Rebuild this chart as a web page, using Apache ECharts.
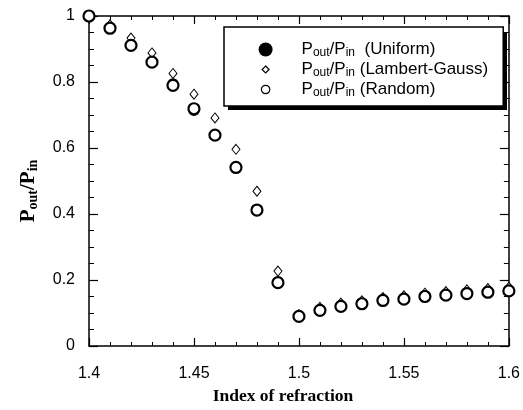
<!DOCTYPE html>
<html>
<head>
<meta charset="utf-8">
<script src="https://cdn.jsdelivr.net/npm/echarts@6/dist/echarts.min.js"></script>
<style>
html, body { margin: 0; padding: 0; background: #fff; }
#chart { width: 523px; height: 410px; }
</style>
</head>
<body>
<div id="chart"></div>
<script>
// index of refraction, 1.40 .. 1.60
var nIndex = [1.40, 1.41, 1.42, 1.43, 1.44, 1.45, 1.46, 1.47, 1.48, 1.49, 1.50,
              1.51, 1.52, 1.53, 1.54, 1.55, 1.56, 1.57, 1.58, 1.59, 1.60]
var uniform = [1.0, 0.963, 0.911, 0.860, 0.795, 0.714, 0.639, 0.541, 0.412, 0.192, 0.090,
               0.108, 0.120, 0.128, 0.138, 0.142, 0.150, 0.154, 0.159, 0.163, 0.167]
var lambert = [1.0, 0.973, 0.933, 0.888, 0.826, 0.763, 0.691, 0.596, 0.469, 0.227, 0.095,
               0.117, 0.130, 0.137, 0.147, 0.152, 0.160, 0.165, 0.170, 0.174, 0.178]
var random = [1.0, 0.963, 0.911, 0.860, 0.790, 0.719, 0.639, 0.541, 0.412, 0.192, 0.090,
              0.108, 0.120, 0.128, 0.138, 0.142, 0.150, 0.154, 0.159, 0.163, 0.167]
var xTicks = { min: 1.4, max: 1.6, interval: 0.05 }
var yTicks = { min: 0, max: 1, interval: 0.2 }

var chart = echarts.init(document.getElementById('chart'))

function pairs(ys) {
	return ys.map(function (y, i) { return [nIndex[i], y] })
}

var sans = 'Liberation Sans, Arial, sans-serif'
var serif = 'Liberation Serif, Times New Roman, serif'

function axisBase(extra) {
	return Object.assign({
		type: 'value',
		axisLine: { show: true, onZero: false, lineStyle: { color: '#000', width: 1.5 } },
		axisTick: { show: true, inside: true, length: 8, lineStyle: { color: '#000', width: 1.2 } },
		minorTick: { show: true, length: 4, lineStyle: { color: '#000', width: 1 } },
		splitLine: { show: false },
	}, extra)
}

var legendText = {
	Uniform: '{p|P}{s|out}{p|/P}{s|in}{p|  (Uniform)}',
	'Lambert-Gauss': '{p|P}{s|out}{p|/P}{s|in}{p| (Lambert-Gauss)}',
	Random: '{p|P}{s|out}{p|/P}{s|in}{p| (Random)}',
}

// legend box (drop shadow drawn as a plain rect behind it)
var legendBox = { left: 224, top: 27, width: 279, height: 78 }

var options = {
	animation: false,
	grid: { left: 89, top: 16, right: 13, bottom: 60 },
	graphic: [
		{
			type: 'rect',
			left: legendBox.left + 4,
			top: legendBox.top + 5,
			shape: { width: legendBox.width, height: legendBox.height },
			style: { fill: '#000' },
			z: 1,
		},
	],
	xAxis: [
		axisBase({
			min: xTicks.min, max: xTicks.max, interval: xTicks.interval,
			minorTick: { show: true, splitNumber: 5, length: 4, lineStyle: { color: '#000', width: 1 } },
			axisLabel: { color: '#000', fontFamily: sans, fontSize: 16, margin: 20 },
			name: 'Index of refraction',
			nameLocation: 'middle',
			nameGap: 41,
			nameTextStyle: { color: '#000', fontFamily: serif, fontWeight: 'bold', fontSize: 17.5, padding: [0, 32, 0, 0] },
		}),
		axisBase({
			position: 'top',
			min: xTicks.min, max: xTicks.max, interval: xTicks.interval,
			minorTick: { show: true, splitNumber: 5, length: 4, lineStyle: { color: '#000', width: 1 } },
			axisLabel: { show: false },
		}),
	],
	yAxis: [
		axisBase({
			min: yTicks.min, max: yTicks.max, interval: yTicks.interval,
			minorTick: { show: true, splitNumber: 4, length: 5, lineStyle: { color: '#000', width: 1 } },
			axisTick: { show: true, inside: true, length: 9, lineStyle: { color: '#000', width: 1.2 } },
			axisLabel: { color: '#000', fontFamily: sans, fontSize: 16, margin: 14 },
			name: '{p|P}{s|out}{p|/P}{s|in}',
			nameLocation: 'middle',
			nameGap: 49,
			nameTextStyle: {
				padding: [0, 20, 0, 0],
				rich: {
					p: { color: '#000', fontFamily: serif, fontWeight: 'bold', fontSize: 21 },
					s: { color: '#000', fontFamily: serif, fontWeight: 'bold', fontSize: 14, padding: [9, 0, 0, 0] },
				},
			},
		}),
		axisBase({
			position: 'right',
			min: yTicks.min, max: yTicks.max, interval: yTicks.interval,
			minorTick: { show: true, splitNumber: 4, length: 5, lineStyle: { color: '#000', width: 1 } },
			axisTick: { show: true, inside: true, length: 9, lineStyle: { color: '#000', width: 1.2 } },
			axisLabel: { show: false },
		}),
	],
	legend: {
		orient: 'vertical',
		left: legendBox.left,
		top: legendBox.top,
		padding: [14, 15, 7, 34],
		itemGap: 2,
		itemWidth: 14,
		itemHeight: 14,
		backgroundColor: '#fff',
		borderColor: '#000',
		borderWidth: 1.5,
		borderRadius: 0,
		z: 5,
		data: [
			{ name: 'Uniform', icon: 'circle', itemStyle: { color: '#000', borderWidth: 0, opacity: 1 } },
			{ name: 'Lambert-Gauss', icon: 'path://M0,0 M20,20 M10,5 L15,10 L10,15 L5,10 Z',
			  itemStyle: { color: '#fff', borderColor: '#000', borderWidth: 1.2, opacity: 1 } },
			{ name: 'Random', icon: 'path://M0,0 M20,20 M10,4 A6,6 0 1,1 9.99,4 Z',
			  itemStyle: { color: '#fff', borderColor: '#000', borderWidth: 1.2, opacity: 1 } },
		],
		formatter: function (name) { return legendText[name] },
		textStyle: {
			rich: {
				p: { color: '#000', fontFamily: sans, fontSize: 17 },
				s: { color: '#000', fontFamily: sans, fontSize: 12, padding: [7, 0, 0, 0] },
			},
			padding: [0, 0, 0, 24],
		},
	},
	series: [
		{
			name: 'Uniform',
			type: 'scatter',
			symbol: 'circle',
			symbolSize: 11,
			itemStyle: { color: '#000', opacity: 1 },
			data: pairs(uniform),
			z: 2,
		},
		{
			name: 'Lambert-Gauss',
			type: 'scatter',
			symbol: 'diamond',
			symbolSize: [8, 10],
			itemStyle: { color: '#fff', borderColor: '#000', borderWidth: 1, opacity: 1 },
			data: pairs(lambert),
			z: 3,
		},
		{
			name: 'Random',
			type: 'scatter',
			symbol: 'circle',
			symbolSize: 11,
			itemStyle: { color: '#fff', borderColor: '#000', borderWidth: 2.2, opacity: 1 },
			data: pairs(random),
			z: 4,
		},
	],
}
chart.setOption(options, true)
</script>
</body>
</html>
